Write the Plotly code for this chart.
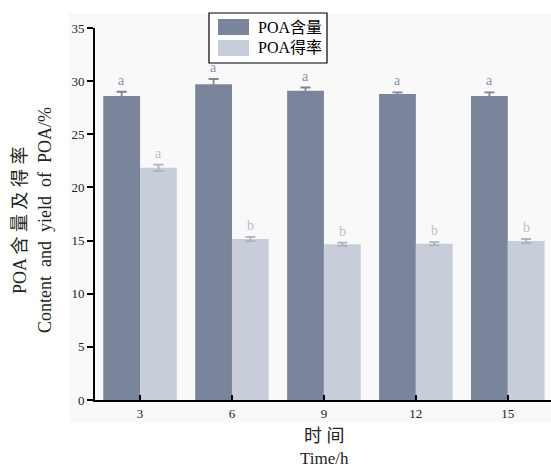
import plotly.graph_objects as go

# Sampling times (h)
times = ["3", "6", "9", "12", "15"]

# POA content (%) and POA yield (%) with standard deviations
content = [28.6, 29.7, 29.1, 28.8, 28.6]
content_err = [0.4, 0.5, 0.3, 0.15, 0.35]
yield_ = [21.85, 15.15, 14.65, 14.7, 14.95]
yield_err = [0.3, 0.2, 0.15, 0.15, 0.2]

# Significance letters
content_sig = ["a", "a", "a", "a", "a"]
yield_sig = ["a", "b", "b", "b", "b"]

series_names = ["POA含量", "POA得率"]
y_ticks = [0, 5, 10, 15, 20, 25, 30, 35]

DARK = "rgb(122,132,155)"
LIGHT = "rgb(199,205,217)"
DARK_TXT = "rgb(140,148,168)"
LIGHT_TXT = "rgb(185,192,207)"
SERIF = "Liberation Serif, Times New Roman, serif"
CJK = "Liberation Serif, Noto Sans CJK SC, serif"

W, H = 551, 469
L, R, T, B = 95, 0, 28, 69
pw, ph = W - L - R, H - T - B

fig = go.Figure()
fig.add_trace(go.Bar(
    x=times, y=content, name=series_names[0], marker_color=DARK,
    marker_line_width=0,
    error_y=dict(type="data", array=content_err, color=DARK, thickness=1.8, width=5),
    showlegend=False,
))
fig.add_trace(go.Bar(
    x=times, y=yield_, name=series_names[1], marker_color=LIGHT,
    marker_line_width=0,
    error_y=dict(type="data", array=yield_err, color="rgb(170,178,196)", thickness=1.8, width=5),
    showlegend=False,
))

# Significance letters above each bar
for i in range(len(times)):
    fig.add_annotation(x=i - 0.2, y=content[i] + content_err[i], text=content_sig[i],
                       showarrow=False, yanchor="bottom", yshift=2,
                       font=dict(family=SERIF, size=14, color=DARK_TXT))
    fig.add_annotation(x=i + 0.2, y=yield_[i] + yield_err[i], text=yield_sig[i],
                       showarrow=False, yanchor="bottom", yshift=2,
                       font=dict(family=SERIF, size=14, color=LIGHT_TXT))

def px_x(p):
    return (p - L) / pw

def px_y(p):
    return (H - B - p) / ph

# Light panel background behind the chart
fig.add_shape(type="rect", xref="paper", yref="paper", layer="below",
              x0=px_x(69), x1=1.0, y0=px_y(423), y1=px_y(13),
              fillcolor="rgb(249,249,249)", line_width=0)

# Legend box
fig.add_shape(type="rect", xref="paper", yref="paper",
              x0=px_x(209), x1=px_x(327), y0=px_y(63), y1=px_y(13),
              fillcolor="white", line=dict(color="black", width=1.2))
for k, (col, name) in enumerate(zip([DARK, LIGHT], series_names)):
    ytop = 19 + k * 21
    fig.add_shape(type="rect", xref="paper", yref="paper",
                  x0=px_x(218), x1=px_x(249), y0=px_y(ytop + 16), y1=px_y(ytop),
                  fillcolor=col, line_width=0)
    fig.add_annotation(xref="paper", yref="paper", x=px_x(256), y=px_y(ytop + 8),
                       text=name, showarrow=False, xanchor="left", yanchor="middle",
                       font=dict(family=CJK, size=16, color="black"))

# Axis titles
def title(x, y, text, family, size, angle=0):
    fig.add_annotation(xref="paper", yref="paper", x=px_x(x), y=px_y(y),
                       text=text, textangle=angle, showarrow=False,
                       xanchor="center", yanchor="middle",
                       font=dict(family=family, size=size, color="#222"))

title(20, 220, "POA 含 量 及 得 率", CJK, 18, -90)
title(45, 220, "Content  and  yield  of  POA/%", SERIF, 18, -90)
title(324, 436, "时 间", CJK, 18)
title(324, 458, "Time/h", SERIF, 17)

fig.update_layout(
    width=W, height=H,
    margin=dict(l=L, r=R, t=T, b=B, pad=0),
    paper_bgcolor="white", plot_bgcolor="rgb(249,249,249)",
    barmode="group", bargap=0.2, bargroupgap=0,
    showlegend=False,
    font=dict(family=SERIF, color="#222"),
)
fig.update_xaxes(
    type="category", range=[-0.49, 4.47],
    showline=True, linecolor="black", linewidth=2,
    ticks="inside", ticklen=5, tickwidth=1.5, tickcolor="black",
    tickfont=dict(family=SERIF, size=13, color="#222"),
    showgrid=False, zeroline=False,
)
fig.update_yaxes(
    range=[0, 35], tickvals=y_ticks,
    showline=True, linecolor="black", linewidth=2,
    ticks="outside", ticklen=6, tickwidth=2, tickcolor="black",
    tickfont=dict(family=SERIF, size=13, color="#222"),
    showgrid=False, zeroline=False,
)

fig.write_html("out.html")
